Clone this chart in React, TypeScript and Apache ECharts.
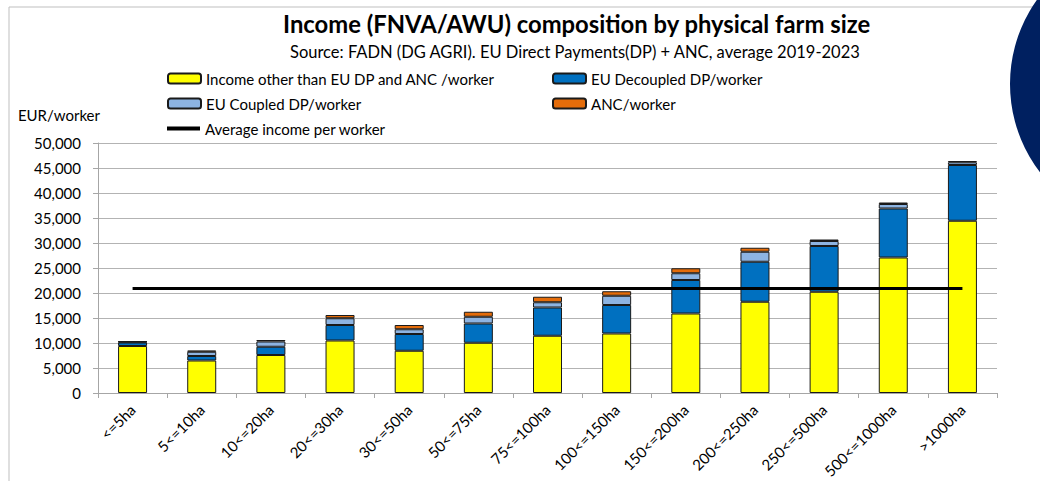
import React, { useEffect, useRef } from "react";
import * as echarts from "echarts";

const categories = [
  "<=5ha", "5<=10ha", "10<=20ha", "20<=30ha", "30<=50ha", "50<=75ha", "75<=100ha",
  "100<=150ha", "150<=200ha", "200<=250ha", "250<=500ha", "500<=1000ha", ">1000ha",
];
const incomeOther = [9400, 6500, 7600, 10500, 8450, 10050, 11450, 11900, 15900, 18250, 20250, 27100, 34450];
const decoupledDP = [700, 900, 1650, 3100, 3350, 3850, 5650, 5700, 6700, 8000, 9150, 9800, 11150];
const coupledDP = [150, 850, 1050, 1350, 950, 1350, 1050, 1850, 1350, 2000, 1000, 900, 550];
const anc = [50, 250, 300, 650, 850, 1000, 1100, 900, 1000, 800, 300, 300, 250];
const avgIncome = [20900, 20900, 20900, 20900, 20900, 20900, 20900, 20900, 20900, 20900, 20900, 20900, 20900];

const yTicks = { min: 0, max: 50000, interval: 5000 };

const FONT = "Lato";

export default function App() {
  const ref = useRef<HTMLDivElement>(null);
  useEffect(() => {
    if (!ref.current) return;
    const chart = echarts.init(ref.current, null, { renderer: "svg" });
    const barBase = {
      type: "bar",
      stack: "total",
      barWidth: 29,
      itemStyle: { borderColor: "#1a1a1a", borderWidth: 1 },
    };
    const legendBase = {
      itemWidth: 33,
      itemHeight: 10,
      itemGap: 5,
      padding: 0,
      textStyle: { fontFamily: FONT, fontSize: 15, color: "#000" },
      selectedMode: false,
    };
    chart.setOption({
      animation: false,
      backgroundColor: "#fff",
      title: [
        {
          text: "Income (FNVA/AWU) composition by physical farm size",
          left: 283,
          top: 12,
          padding: 0,
          textStyle: { fontFamily: FONT, fontSize: 23.8, fontWeight: "bold", color: "#000" },
        },
        {
          text: "Source: FADN (DG AGRI). EU Direct Payments(DP) + ANC, average 2019-2023",
          left: 290,
          top: 43,
          padding: 0,
          textStyle: { fontFamily: FONT, fontSize: 16.5, fontWeight: "normal", color: "#000" },
        },
      ],
      legend: [
        { ...legendBase, left: 167, top: 71, data: ["Income other than EU DP and ANC /worker"] },
        { ...legendBase, left: 552, top: 71, data: ["EU Decoupled DP/worker"] },
        { ...legendBase, left: 167, top: 96, data: ["EU Coupled DP/worker"] },
        { ...legendBase, left: 552, top: 96, data: ["ANC/worker"] },
        {
          ...legendBase,
          left: 167,
          top: 121,
          itemHeight: 4,
          data: [{ name: "Average income per worker", icon: "rect", itemStyle: { color: "#000", borderWidth: 0 } }],
        },
      ],
      grid: { left: 98, right: 43, top: 143, bottom: 88, containLabel: false },
      xAxis: {
        type: "category",
        data: categories,
        boundaryGap: true,
        axisLine: { show: true, lineStyle: { color: "#a6a6a6", width: 1 } },
        axisTick: { show: true, interval: 0, length: 5, lineStyle: { color: "#a6a6a6" } },
        axisLabel: {
          interval: 0,
          rotate: 45,
          margin: 14,
          fontFamily: FONT,
          fontSize: 15,
          color: "#000",
        },
      },
      yAxis: {
        type: "value",
        min: yTicks.min,
        max: yTicks.max,
        interval: yTicks.interval,
        name: "EUR/worker",
        nameLocation: "end",
        nameGap: 21,
        nameTextStyle: { fontFamily: FONT, fontSize: 15, color: "#000", align: "right", padding: [0, -2, 0, 0] },
        axisLine: { show: true, lineStyle: { color: "#a6a6a6", width: 1 } },
        axisTick: { show: true, length: 5, lineStyle: { color: "#a6a6a6" } },
        axisLabel: { margin: 17, fontFamily: FONT, fontSize: 15, color: "#000" },
        splitLine: { show: true, lineStyle: { color: "#b3b3b3", width: 1 } },
      },
      series: [
        { ...barBase, name: "Income other than EU DP and ANC /worker", data: incomeOther, itemStyle: { ...barBase.itemStyle, color: "#ffff00" } },
        { ...barBase, name: "EU Decoupled DP/worker", data: decoupledDP, itemStyle: { ...barBase.itemStyle, color: "#0070c0" } },
        { ...barBase, name: "EU Coupled DP/worker", data: coupledDP, itemStyle: { ...barBase.itemStyle, color: "#8db4e2" } },
        { ...barBase, name: "ANC/worker", data: anc, itemStyle: { ...barBase.itemStyle, color: "#e46c0a" } },
        {
          type: "line",
          name: "Average income per worker",
          data: avgIncome,
          symbol: "none",
          lineStyle: { color: "#000", width: 3 },
          itemStyle: { color: "#000" },
          z: 5,
        },
      ],
      graphic: [
        {
          type: "rect",
          shape: { x: 9, y: 7, width: 1100, height: 520 },
          style: { fill: "none", stroke: "#bfbfbf", lineWidth: 1 },
          silent: true,
          z: -1,
        },
        {
          type: "circle",
          shape: { cx: 1155, cy: 84, r: 145 },
          style: { fill: "#002060" },
          silent: true,
        },
      ],
    });
    return () => chart.dispose();
  }, []);
  return <div ref={ref} style={{ width: 1040, height: 481, position: "absolute", left: 0, top: 0 }} />;
}
